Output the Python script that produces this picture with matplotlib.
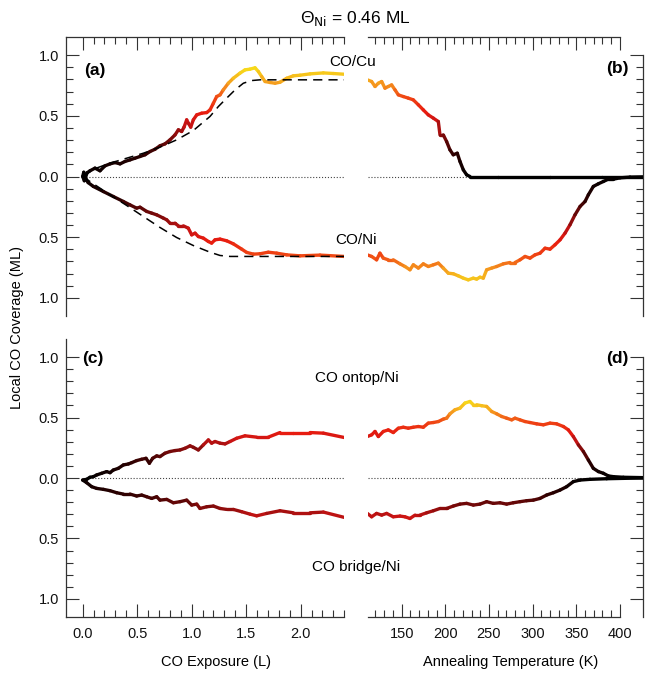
import numpy as np
import matplotlib
matplotlib.use('Agg')
import matplotlib.pyplot as plt
from matplotlib.collections import LineCollection
from matplotlib.colors import LinearSegmentedColormap, Normalize
from matplotlib.ticker import FixedLocator, FuncFormatter

plt.rcParams['font.family'] = ['Liberation Sans', 'DejaVu Sans']

# ---------------- data ----------------
# Panel (a): CO exposure (L)
a_cu_x = [0.0, 0.01, 0.025, 0.04, 0.067, 0.113, 0.159, 0.205, 0.251, 0.297, 0.343, 0.388, 0.434, 0.480,
          0.526, 0.572, 0.618, 0.664, 0.709, 0.755, 0.801, 0.847, 0.878, 0.908, 0.930, 0.954, 0.969,
          0.991, 1.015, 1.046, 1.092, 1.138, 1.168, 1.199, 1.229, 1.260, 1.290, 1.336, 1.382, 1.443,
          1.489, 1.535, 1.581, 1.612, 1.642, 1.673, 1.719, 1.765, 1.810, 1.872, 1.933, 1.994, 2.086,
          2.208, 2.300, 2.400]
a_cu_y = [0.0, 0.035, -0.01, 0.03, 0.047, 0.069, 0.047, 0.088, 0.104, 0.115, 0.104, 0.124, 0.137, 0.151,
          0.165, 0.179, 0.206, 0.225, 0.253, 0.269, 0.302, 0.343, 0.385, 0.371, 0.407, 0.467, 0.440,
          0.407, 0.467, 0.508, 0.522, 0.527, 0.549, 0.604, 0.659, 0.673, 0.714, 0.769, 0.810, 0.852,
          0.879, 0.885, 0.896, 0.865, 0.824, 0.783, 0.775, 0.769, 0.777, 0.810, 0.830, 0.835, 0.846,
          0.854, 0.849, 0.843]
a_ni_x = [0.0, 0.015, 0.03, 0.05, 0.098, 0.190, 0.281, 0.373, 0.434, 0.495, 0.526, 0.587, 0.633, 0.679,
          0.740, 0.771, 0.801, 0.847, 0.878, 0.924, 0.969, 1.000, 1.031, 1.061, 1.107, 1.153, 1.183,
          1.214, 1.260, 1.321, 1.382, 1.459, 1.505, 1.566, 1.627, 1.703, 1.780, 1.872, 1.994, 2.177,
          2.400]
a_ni_y = [0.0, 0.035, 0.02, 0.05, 0.082, 0.124, 0.165, 0.206, 0.234, 0.261, 0.253, 0.288, 0.302, 0.316,
          0.343, 0.357, 0.385, 0.385, 0.407, 0.407, 0.426, 0.481, 0.467, 0.495, 0.508, 0.536, 0.549,
          0.522, 0.516, 0.530, 0.555, 0.599, 0.626, 0.640, 0.637, 0.624, 0.632, 0.646, 0.654, 0.648,
          0.659]
# model (dashed) curves
a_cu_fit_x = [0.0, 0.098, 0.251, 0.404, 0.557, 0.709, 0.862, 1.015, 1.168, 1.245, 1.321, 1.398, 1.474,
              1.550, 1.627, 2.400]
a_cu_fit_y = [0.0, 0.060, 0.110, 0.151, 0.192, 0.242, 0.302, 0.379, 0.495, 0.577, 0.646, 0.714, 0.769,
              0.791, 0.797, 0.797]
a_ni_fit_x = [0.0, 0.098, 0.251, 0.404, 0.557, 0.709, 0.862, 1.015, 1.168, 1.260, 1.352, 2.400]
a_ni_fit_y = [0.0, 0.060, 0.151, 0.239, 0.330, 0.420, 0.503, 0.569, 0.624, 0.651, 0.659, 0.659]

# Panel (b): annealing temperature (K)
b_cu_x = [110.7, 115.6, 119.5, 123.3, 127.1, 130.9, 134.7, 138.5, 142.4, 146.2, 151.9, 157.6, 163.3,
          169.1, 174.8, 180.5, 186.3, 192.0, 193.9, 197.7, 201.5, 205.3, 209.1, 213.7, 216.8, 220.6,
          224.4, 228.2, 260.0, 320.0, 380.0, 426.5]
b_cu_y = [0.797, 0.783, 0.742, 0.769, 0.783, 0.728, 0.742, 0.755, 0.714, 0.673, 0.659, 0.646, 0.632,
          0.591, 0.549, 0.508, 0.481, 0.453, 0.343, 0.343, 0.288, 0.220, 0.179, 0.192, 0.124, 0.055,
          0.014, 0.0, 0.0, 0.0, 0.0, 0.0]
b_ni_x = [110.7, 115.6, 121.3, 125.1, 129.0, 134.7, 140.4, 148.1, 153.8, 159.5, 163.4, 169.1, 174.8,
          180.5, 186.3, 192.0, 197.7, 203.4, 209.2, 214.9, 220.6, 226.3, 232.0, 235.9, 239.7, 243.5,
          247.3, 253.1, 258.8, 266.4, 274.1, 279.8, 285.5, 291.3, 297.0, 302.7, 308.5, 314.2, 319.9,
          325.6, 331.4, 337.1, 342.8, 348.5, 354.3, 360.0, 363.8, 369.5, 375.3, 381.0, 386.7, 392.5,
          400.1, 411.5, 426.5]
b_ni_y = [0.646, 0.659, 0.687, 0.632, 0.673, 0.687, 0.687, 0.720, 0.742, 0.769, 0.728, 0.755, 0.720,
          0.742, 0.728, 0.714, 0.755, 0.797, 0.802, 0.819, 0.838, 0.852, 0.838, 0.846, 0.830, 0.838,
          0.769, 0.755, 0.742, 0.720, 0.709, 0.709, 0.687, 0.659, 0.673, 0.646, 0.632, 0.591, 0.599,
          0.563, 0.522, 0.467, 0.398, 0.316, 0.247, 0.206, 0.151, 0.082, 0.060, 0.041, 0.022, 0.022,
          0.011, 0.005, 0.003]

# Panel (c): CO exposure (L)
c_top_x = [0.0, 0.037, 0.067, 0.098, 0.128, 0.174, 0.220, 0.251, 0.281, 0.327, 0.373, 0.419, 0.450,
           0.495, 0.541, 0.581, 0.612, 0.642, 0.679, 0.709, 0.755, 0.801, 0.847, 0.893, 0.939, 0.985,
           1.015, 1.061, 1.107, 1.153, 1.183, 1.214, 1.260, 1.306, 1.352, 1.413, 1.489, 1.596, 1.703,
           1.810, 1.933, 2.086, 2.208, 2.400]
c_top_y = [-0.017, -0.011, 0.006, 0.011, 0.025, 0.039, 0.053, 0.044, 0.066, 0.080, 0.108, 0.116, 0.127,
           0.144, 0.155, 0.163, 0.122, 0.163, 0.183, 0.177, 0.205, 0.219, 0.227, 0.232, 0.246, 0.266,
           0.254, 0.232, 0.274, 0.315, 0.288, 0.302, 0.288, 0.282, 0.302, 0.329, 0.349, 0.338, 0.338,
           0.376, 0.376, 0.376, 0.371, 0.335]
c_br_x = [0.0, 0.037, 0.083, 0.128, 0.190, 0.251, 0.312, 0.373, 0.434, 0.495, 0.541, 0.587, 0.633,
          0.679, 0.709, 0.771, 0.832, 0.893, 0.954, 1.000, 1.046, 1.076, 1.138, 1.199, 1.260, 1.321,
          1.382, 1.459, 1.535, 1.596, 1.688, 1.810, 1.933, 2.086, 2.208, 2.400]
c_br_y = [0.017, 0.039, 0.072, 0.086, 0.094, 0.105, 0.122, 0.133, 0.133, 0.149, 0.141, 0.155, 0.169,
          0.155, 0.183, 0.177, 0.205, 0.196, 0.183, 0.224, 0.216, 0.252, 0.238, 0.232, 0.252, 0.260,
          0.260, 0.279, 0.299, 0.313, 0.293, 0.271, 0.288, 0.288, 0.282, 0.326]

# Panel (d): annealing temperature (K)
d_top_x = [110.7, 115.6, 119.5, 123.3, 129.0, 134.7, 140.4, 146.2, 151.9, 157.6, 163.3, 169.1, 174.8,
           180.5, 186.3, 192.0, 197.7, 201.5, 205.3, 211.0, 216.8, 222.5, 228.2, 232.1, 235.9, 241.6,
           247.3, 253.1, 258.8, 264.5, 270.2, 276.0, 279.8, 285.5, 291.3, 297.0, 304.6, 312.3, 319.9,
           327.5, 335.2, 340.9, 346.6, 352.4, 358.1, 363.8, 369.5, 375.3, 381.0, 386.7, 392.5, 403.9,
           426.5]
d_top_y = [0.343, 0.357, 0.385, 0.343, 0.385, 0.398, 0.376, 0.412, 0.420, 0.412, 0.420, 0.426, 0.420,
           0.454, 0.459, 0.467, 0.487, 0.495, 0.531, 0.564, 0.578, 0.620, 0.633, 0.606, 0.606, 0.598,
           0.592, 0.550, 0.531, 0.509, 0.495, 0.481, 0.495, 0.481, 0.467, 0.459, 0.448, 0.440, 0.454,
           0.448, 0.426, 0.398, 0.343, 0.274, 0.219, 0.149, 0.080, 0.053, 0.039, 0.017, 0.011, 0.006,
           0.003]
d_br_x = [110.7, 115.6, 121.3, 127.1, 132.8, 140.4, 148.1, 153.8, 159.5, 165.3, 171.0, 178.6, 186.3,
          193.9, 201.5, 209.2, 216.8, 224.4, 232.1, 239.7, 247.3, 254.9, 262.6, 270.2, 277.8, 285.5,
          293.1, 300.8, 308.4, 316.0, 323.7, 331.3, 338.9, 346.6, 354.2, 365.7, 384.8, 403.9, 426.5]
d_br_y = [0.293, 0.321, 0.293, 0.307, 0.293, 0.321, 0.315, 0.321, 0.335, 0.307, 0.307, 0.288, 0.271,
          0.252, 0.252, 0.232, 0.216, 0.210, 0.224, 0.216, 0.196, 0.210, 0.205, 0.216, 0.205, 0.196,
          0.188, 0.183, 0.169, 0.141, 0.122, 0.100, 0.072, 0.030, 0.017, 0.011, 0.006, 0.003, 0.0]

exp_major = [0.0, 0.5, 1.0, 1.5, 2.0]
temp_major = [150, 200, 250, 300, 350, 400]
y_major = [-1.0, -0.5, 0.0, 0.5, 1.0]

# ---------------- styling ----------------
cmap = LinearSegmentedColormap.from_list('cov', [
    (0.0, '#000000'), (0.2, '#2a0000'), (0.4, '#8c0c0c'), (0.5, '#c81414'),
    (0.6, '#e81c10'), (0.75, '#f04a14'), (0.87, '#f59a1e'), (1.0, '#f7d81a')])
VMAX_TOP = 0.88
VMAX_BOT = 0.63
SPINE = '#333333'

W, H = 645, 674
fig = plt.figure(figsize=(W / 100, H / 100), dpi=100)


def ax_at(x0, y0, x1, y1):
    return fig.add_axes([x0 / W, 1 - y1 / H, (x1 - x0) / W, (y1 - y0) / H])


def colored(ax, x, y, vmax, sign=1.0):
    x = np.asarray(x, float)
    y = sign * np.asarray(y, float)
    pts = np.column_stack([x, y])
    segs = np.stack([pts[:-1], pts[1:]], axis=1)
    val = np.abs((y[:-1] + y[1:]) / 2)
    lc = LineCollection(segs, cmap=cmap, norm=Normalize(0, vmax), linewidths=2.4,
                        capstyle='round', joinstyle='round', zorder=3)
    lc.set_array(val)
    ax.add_collection(lc)


ax_a = ax_at(66, 37, 344.3, 316)
ax_b = ax_at(367.6, 37, 643.1, 316)
ax_c = ax_at(66, 339, 344.3, 617)
ax_d = ax_at(367.6, 339, 643.1, 617)

yfmt = FuncFormatter(lambda v, p: f"{abs(v):.1f}")
for ax in (ax_a, ax_b, ax_c, ax_d):
    ax.set_ylim(-1.15, 1.15)
    ax.set_facecolor('none')
    for s in ax.spines.values():
        s.set_visible(False)
        s.set_color(SPINE)
        s.set_linewidth(0.9)
    ax.yaxis.set_major_locator(FixedLocator(y_major))
    ax.yaxis.set_minor_locator(FixedLocator(np.round(np.arange(-1.0, 1.001, 0.1), 2)))
    ax.yaxis.set_major_formatter(yfmt)
    ax.tick_params(which='both', direction='in', color=SPINE, width=0.8, labelsize=10.5,
                   labelcolor='#111111', pad=5)
    ax.tick_params(which='major', length=9.5)
    ax.tick_params(which='minor', length=5)

for ax in (ax_a, ax_c):
    ax.set_xlim(-0.153, 2.4)
    ax.xaxis.set_major_locator(FixedLocator(exp_major))
    ax.xaxis.set_minor_locator(FixedLocator(np.round(np.arange(0.0, 2.401, 0.1), 2)))
    ax.xaxis.set_major_formatter(FuncFormatter(lambda v, p: f"{v:.1f}"))
    ax.spines['left'].set_visible(True)
    ax.spines['left'].set_bounds(-1.15, 1.15)
    ax.tick_params(axis='y', which='both', left=True, right=False, labelleft=True)

for ax in (ax_b, ax_d):
    ax.set_xlim(111, 426.5)
    ax.xaxis.set_major_locator(FixedLocator(temp_major))
    ax.xaxis.set_minor_locator(FixedLocator(np.arange(120, 401, 10)))
    ax.xaxis.set_major_formatter(FuncFormatter(lambda v, p: f"{v:.0f}"))
    ax.spines['right'].set_visible(True)
    ax.spines['right'].set_bounds(-1.15, 1.0)
    ax.tick_params(axis='y', which='both', left=False, right=True, labelleft=False, labelright=False)

for ax in (ax_a, ax_b):
    ax.spines['top'].set_visible(True)
    ax.tick_params(axis='x', which='both', top=True, bottom=False, labeltop=False, labelbottom=False)
for ax in (ax_c, ax_d):
    ax.spines['bottom'].set_visible(True)
    ax.tick_params(axis='x', which='both', top=False, bottom=True, labelbottom=True, pad=7)
ax_b.spines['top'].set_bounds(111, 400)
ax_d.spines['bottom'].set_bounds(111, 400)

# zero reference lines
ax_a.hlines(0, 0, 2.4, colors='#444444', linestyles=':', linewidth=0.8, zorder=1)
ax_c.hlines(0, 0, 2.4, colors='#444444', linestyles=':', linewidth=0.8, zorder=1)
ax_b.axhline(0, color='#444444', ls=':', lw=0.8, zorder=1)
ax_d.axhline(0, color='#444444', ls=':', lw=0.8, zorder=1)

# curves
ax_a.plot(a_cu_fit_x, a_cu_fit_y, color='black', lw=1.1, ls=(0, (6, 4)), zorder=4)
ax_a.plot(a_ni_fit_x, -np.asarray(a_ni_fit_y), color='black', lw=1.1, ls=(0, (6, 4)), zorder=4)
colored(ax_a, a_cu_x, a_cu_y, VMAX_TOP)
colored(ax_a, a_ni_x, a_ni_y, VMAX_TOP, sign=-1)
colored(ax_b, b_cu_x, b_cu_y, VMAX_TOP)
colored(ax_b, b_ni_x, b_ni_y, VMAX_TOP, sign=-1)
colored(ax_c, c_top_x, c_top_y, VMAX_BOT)
colored(ax_c, c_br_x, c_br_y, VMAX_BOT, sign=-1)
colored(ax_d, d_top_x, d_top_y, VMAX_BOT)
colored(ax_d, d_br_x, d_br_y, VMAX_BOT, sign=-1)


def ftext(x, y, s, **kw):
    fig.text(x / W, 1 - y / H, s, ha=kw.pop('ha', 'center'), va=kw.pop('va', 'center'), **kw)


ftext(355, 18, "Θ$_{\\mathrm{Ni}}$ = 0.46 ML", fontsize=12.5)
ftext(17, 327, "Local CO Coverage (ML)", fontsize=10.5, rotation=90)
ftext(216, 662, "CO Exposure (L)", fontsize=10.5)
ftext(511, 662, "Annealing Temperature (K)", fontsize=10.5)
ftext(95, 70, "(a)", fontsize=12.5, fontweight='bold')
ftext(617, 69, "(b)", fontsize=12.5, fontweight='bold')
ftext(93, 359, "(c)", fontsize=12.5, fontweight='bold')
ftext(617, 358, "(d)", fontsize=12.5, fontweight='bold')
ftext(353, 62, "CO/Cu", fontsize=11)
ftext(356, 240, "CO/Ni", fontsize=11)
ftext(357, 378, "CO ontop/Ni", fontsize=11)
ftext(356, 567, "CO bridge/Ni", fontsize=11)

fig.savefig('out.png', dpi=100)
